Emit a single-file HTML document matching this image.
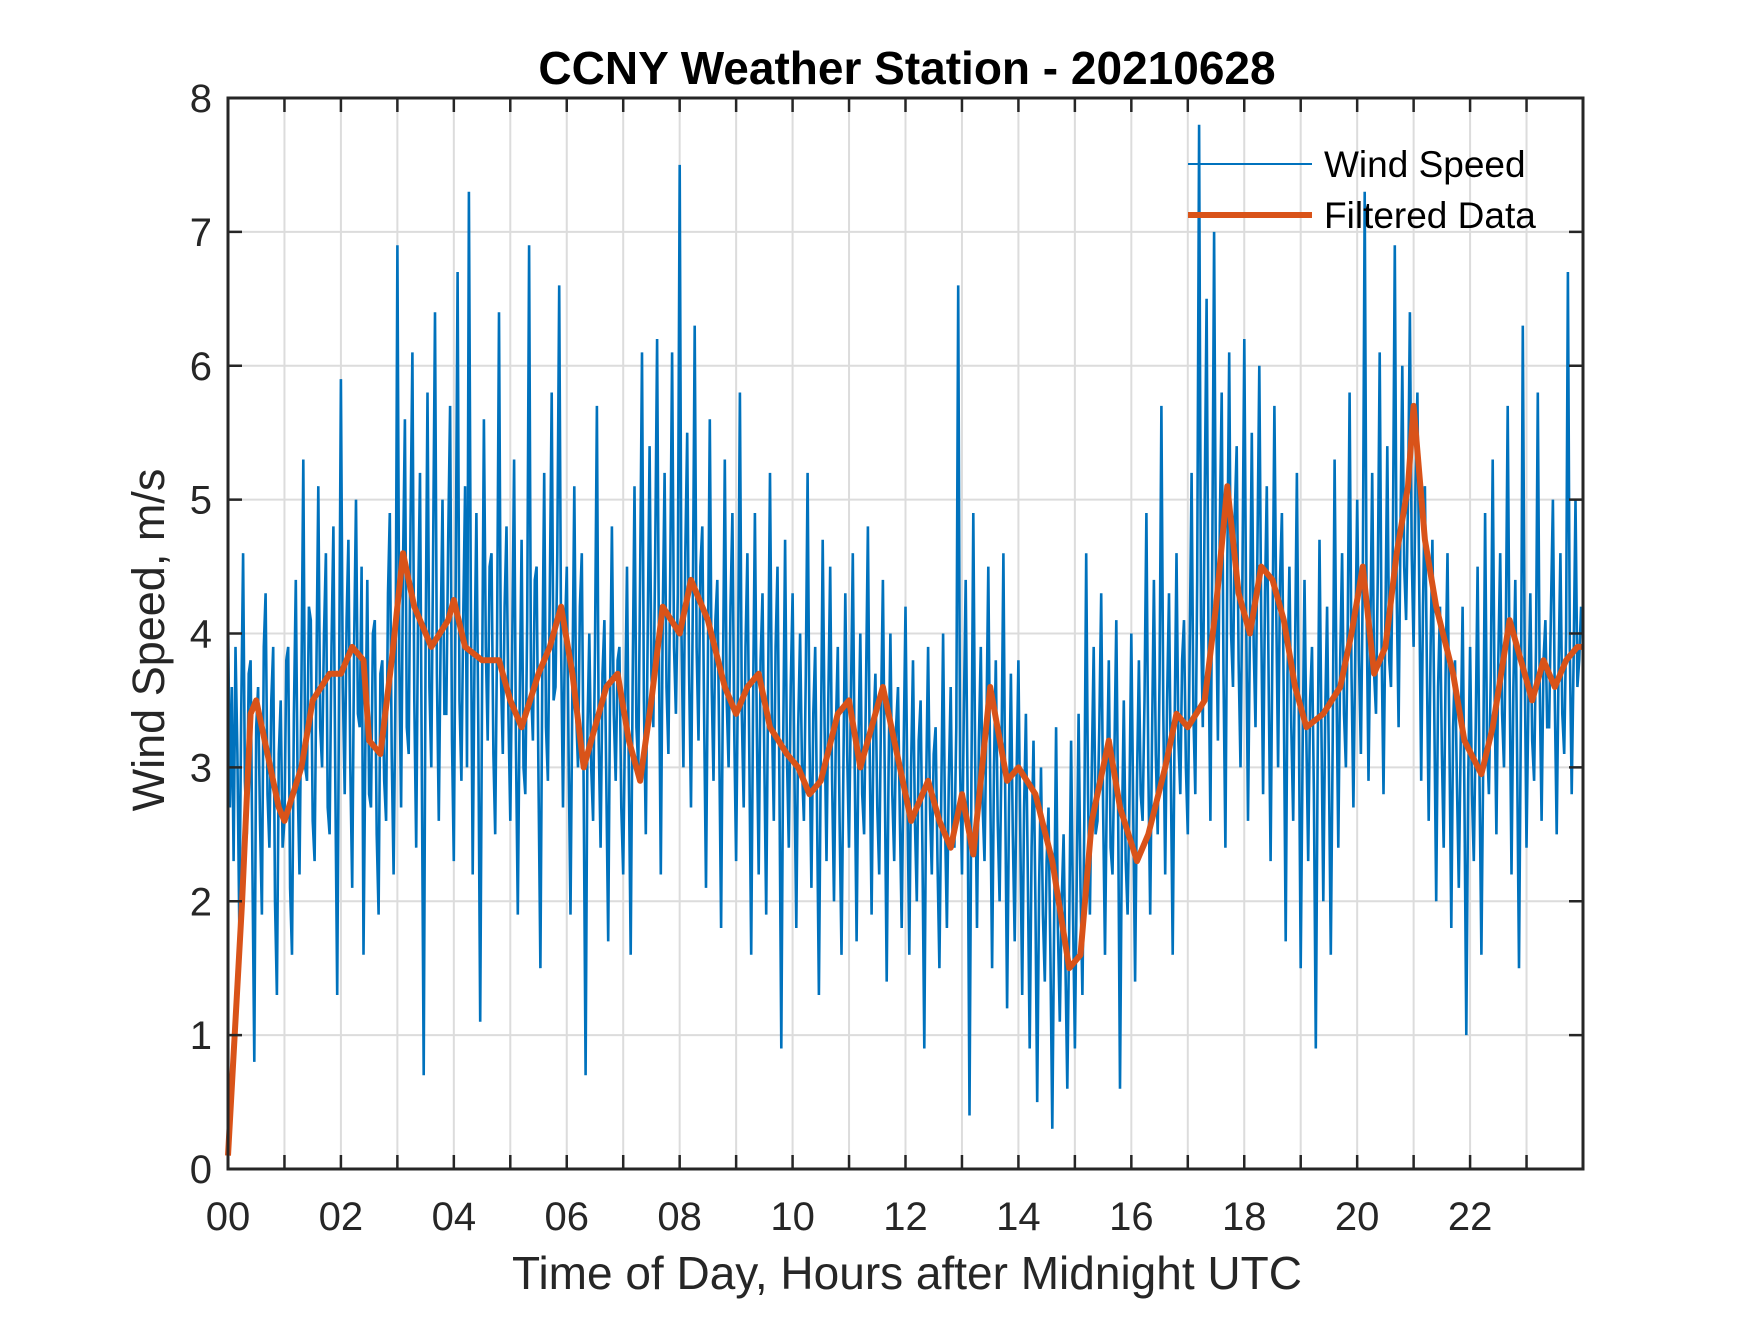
<!DOCTYPE html>
<html><head><meta charset="utf-8"><style>
body{margin:0;background:#fff;}
svg text{font-family:"Liberation Sans",Arial,sans-serif;fill:#262626;}
</style></head><body>
<svg id="chart" width="1750" height="1313" viewBox="0 0 1750 1313" xmlns="http://www.w3.org/2000/svg">
<rect x="0" y="0" width="1750" height="1313" fill="#fff"/>
<g id="grid"></g>
<g id="series"></g>
<g id="axes"></g>
<text x="907" y="84" font-size="46" font-weight="bold" text-anchor="middle" style="fill:#000">CCNY Weather Station - 20210628</text>
<text x="907" y="1289" font-size="46" text-anchor="middle">Time of Day, Hours after Midnight UTC</text>
<text transform="translate(164,640) rotate(-90)" font-size="45" text-anchor="middle">Wind Speed, m/s</text>
<g>
<line x1="1188" y1="164" x2="1312" y2="164" stroke="#0072BD" stroke-width="2"/>
<text x="1324" y="177" font-size="37" style="fill:#000">Wind Speed</text>
<line x1="1188" y1="215" x2="1312" y2="215" stroke="#D95319" stroke-width="6"/>
<text x="1324" y="228" font-size="37" style="fill:#000">Filtered Data</text>
</g>
</svg>
<script>
const xTickLabels=["00","02","04","06","08","10","12","14","16","18","20","22"];
const yTickLabels=["0","1","2","3","4","5","6","7","8"];
const filtT=[0,0.25,0.4,0.5,0.7,0.9,1.0,1.3,1.5,1.8,2.0,2.2,2.4,2.5,2.7,2.9,3.1,3.3,3.6,3.9,4.0,4.2,4.5,4.8,5.0,5.2,5.5,5.7,5.9,6.1,6.3,6.5,6.7,6.9,7.1,7.3,7.5,7.7,8.0,8.2,8.5,8.8,9.0,9.2,9.4,9.6,9.9,10.1,10.3,10.5,10.8,11.0,11.2,11.4,11.6,11.9,12.1,12.4,12.6,12.8,13.0,13.2,13.5,13.8,14.0,14.3,14.6,14.9,15.1,15.3,15.6,15.8,16.1,16.3,16.6,16.8,17.0,17.3,17.5,17.7,17.9,18.1,18.3,18.5,18.7,18.9,19.1,19.4,19.7,19.9,20.1,20.3,20.5,20.7,20.9,21.0,21.2,21.4,21.7,21.9,22.2,22.4,22.7,22.9,23.1,23.3,23.5,23.7,23.9,24.0];
const filtV=[0.1,2.0,3.4,3.5,3.1,2.7,2.6,3.0,3.5,3.7,3.7,3.9,3.8,3.2,3.1,3.8,4.6,4.2,3.9,4.1,4.25,3.9,3.8,3.8,3.5,3.3,3.7,3.9,4.2,3.7,3.0,3.3,3.6,3.7,3.2,2.9,3.5,4.2,4.0,4.4,4.1,3.6,3.4,3.6,3.7,3.3,3.1,3.0,2.8,2.9,3.4,3.5,3.0,3.3,3.6,3.0,2.6,2.9,2.6,2.4,2.8,2.35,3.6,2.9,3.0,2.8,2.3,1.5,1.6,2.6,3.2,2.7,2.3,2.5,3.0,3.4,3.3,3.5,4.2,5.1,4.3,4.0,4.5,4.4,4.1,3.6,3.3,3.4,3.6,4.0,4.5,3.7,3.9,4.6,5.1,5.7,4.7,4.2,3.7,3.2,2.95,3.3,4.1,3.8,3.5,3.8,3.6,3.8,3.9,3.9];
const windV=[
4.2,2.7,3.6,2.3,3.9,3.1,1.8,3.4,4.6,2.9,2.5,3.7,3.8,2.2,0.8,3.3,3.6,2.6,1.9,3.9,4.3,2.8,2.4,3.5,3.9,2.0,1.3,3.1,3.5,2.4,
2.6,3.8,3.9,2.1,1.6,3.4,4.4,2.9,2.2,3.6,5.3,3.0,2.9,4.2,4.1,2.6,2.3,3.8,5.1,3.3,3.0,4.0,4.6,2.7,2.5,3.9,4.8,2.9,1.3,3.5,
5.9,3.6,2.8,4.1,4.7,3.0,2.1,3.9,5.0,3.4,3.3,4.5,1.6,3.2,4.4,2.8,2.7,4.0,4.1,2.5,1.9,3.7,3.8,2.9,2.6,4.3,4.9,3.1,2.2,3.6,
6.9,3.8,2.7,4.5,5.6,3.3,3.1,4.8,6.1,3.5,2.4,4.2,5.2,3.0,0.7,3.9,5.8,3.6,3.0,4.6,6.4,3.7,2.6,4.0,5.0,3.4,3.4,4.7,5.7,3.2,
2.3,4.4,6.7,3.5,2.9,4.1,5.1,3.0,7.3,4.3,2.2,3.8,4.9,3.3,1.1,3.6,5.6,3.9,3.2,4.5,4.6,3.1,2.5,4.0,6.4,3.7,3.1,4.2,4.8,3.4,
2.6,3.9,5.3,3.2,1.9,3.5,4.7,3.0,2.8,4.1,6.9,3.6,3.2,4.4,4.5,2.9,1.5,3.7,5.2,3.3,2.9,4.3,5.8,3.5,3.6,4.6,6.6,3.9,2.7,4.0,
4.5,3.1,1.9,3.6,5.1,3.4,3.0,4.2,4.6,2.8,0.7,3.3,4.0,3.0,2.6,3.9,5.7,3.2,2.4,3.7,4.1,2.9,1.7,3.5,4.8,3.4,2.9,3.8,3.9,2.7,
2.2,3.4,4.5,2.9,1.6,3.6,5.1,3.3,3.0,4.4,6.1,3.5,2.5,4.0,5.4,3.7,3.3,4.6,6.2,3.8,2.2,4.1,5.2,3.6,3.1,4.5,6.1,3.9,3.4,4.3,
7.5,4.0,3.0,4.6,5.5,3.7,2.7,4.2,6.3,3.9,3.2,4.5,4.8,3.4,2.1,3.8,5.6,3.6,2.9,4.1,4.4,3.2,1.8,3.7,5.3,3.5,3.0,4.2,4.9,3.3,
2.3,3.7,5.8,3.4,2.7,3.9,4.6,3.1,1.6,3.5,4.9,3.3,2.2,3.8,4.3,3.0,1.9,3.6,5.2,3.4,2.6,3.9,4.5,2.9,0.9,3.2,4.7,3.1,2.4,3.6,
4.3,2.9,1.8,3.3,4.0,3.0,2.6,3.7,5.2,3.2,2.1,3.4,3.9,2.7,1.3,3.1,4.7,3.3,2.3,3.5,4.5,2.9,2.0,3.3,3.9,2.6,1.6,3.0,4.3,3.1,
2.4,3.5,4.6,3.0,1.7,3.2,4.0,2.8,2.5,3.6,4.8,3.1,1.9,3.3,3.7,2.7,2.2,3.4,4.4,2.9,1.4,3.0,4.0,2.8,2.3,3.3,3.6,2.6,1.8,3.1,
4.2,2.8,1.6,3.0,3.8,2.6,2.0,3.2,3.5,2.4,0.9,2.9,3.9,2.7,2.2,3.1,3.3,2.3,1.5,2.8,4.0,2.6,1.8,2.9,3.6,2.5,2.4,3.3,6.6,3.0,
2.2,3.4,4.4,2.8,0.4,2.9,4.9,3.1,1.8,3.2,3.9,2.7,2.3,3.3,4.5,2.9,1.5,3.0,3.8,2.6,2.0,3.1,4.6,2.8,1.2,2.7,3.7,2.5,1.7,2.9,
3.8,2.5,1.3,2.7,3.4,2.2,0.9,2.4,3.2,2.0,0.5,2.1,3.0,1.9,1.4,2.3,2.7,1.6,0.3,1.9,3.3,1.8,1.1,2.0,2.5,1.5,0.6,1.8,3.2,1.9,
0.9,2.2,3.4,2.1,1.3,2.6,4.6,2.8,1.9,3.0,3.9,2.5,2.6,3.3,4.3,2.7,1.6,2.9,3.8,2.4,2.2,3.1,4.1,2.6,0.6,2.5,3.5,2.3,1.9,2.8,
4.0,2.7,1.4,2.9,3.8,2.8,2.6,3.5,4.9,3.0,1.9,3.2,4.4,3.1,2.5,3.7,5.7,3.4,2.2,3.5,4.3,2.9,1.6,3.3,4.6,3.2,2.8,3.8,4.1,3.0,
2.5,3.9,5.2,3.4,2.8,4.4,7.8,4.1,3.3,5.0,6.5,3.9,2.6,4.6,7.0,4.3,3.2,4.8,5.8,3.7,2.4,4.5,6.1,4.0,3.6,4.9,5.4,3.8,3.0,4.4,
6.2,4.2,2.6,4.0,5.5,3.9,3.3,4.6,6.0,4.1,2.8,4.3,5.1,3.6,2.3,4.0,5.7,4.2,3.0,4.4,4.9,3.5,1.7,3.7,4.5,3.3,2.6,3.9,5.2,3.4,
1.5,3.1,4.4,3.2,2.3,3.5,3.9,2.8,0.9,3.0,4.7,3.3,2.0,3.4,4.2,3.0,1.6,3.2,5.3,3.6,2.4,3.8,4.6,3.4,3.0,4.1,5.8,3.7,2.7,3.9,
5.0,3.8,3.1,4.4,7.3,4.2,2.9,4.0,5.2,3.7,3.4,4.5,6.1,3.9,2.8,4.1,5.4,3.8,3.6,4.7,6.9,4.3,3.3,4.8,6.0,4.5,4.1,5.0,6.4,4.6,
3.9,5.1,5.8,4.3,2.9,4.2,5.1,3.8,2.6,3.9,4.7,3.4,2.0,3.6,4.2,3.1,2.4,3.7,4.6,3.2,1.8,3.3,3.8,2.9,2.1,3.2,4.2,2.8,1.0,2.9,
3.9,2.8,2.3,3.3,4.5,2.9,1.6,3.1,4.9,3.2,2.8,3.7,5.3,3.6,2.5,3.8,4.6,3.4,3.0,4.0,5.7,3.7,2.2,3.6,4.4,3.1,1.5,3.4,6.3,3.8,
2.4,3.5,4.3,3.2,2.9,3.9,5.8,3.6,2.6,3.8,4.1,3.3,3.3,4.2,5.0,3.5,2.5,3.7,4.6,3.4,3.1,4.0,6.7,3.9,2.8,3.8,5.0,3.6,3.8,4.2];
const L=228,R=1583,T=98,B=1169,XMAX=24,YMAX=8;
const xs=h=>L+(R-L)*h/XMAX, ys=v=>B-(B-T)*v/YMAX;
const NS="http://www.w3.org/2000/svg";
function mk(tag,attrs,parent){const e=document.createElementNS(NS,tag);for(const k in attrs)e.setAttribute(k,attrs[k]);parent.appendChild(e);return e;}
const grid=document.getElementById('grid'),axes=document.getElementById('axes'),series=document.getElementById('series');
for(let h=1;h<XMAX;h++){const g=mk('line',{x1:xs(h),x2:xs(h),y1:T,y2:B,stroke:'#dcdcdc','stroke-width':2},grid);

}
for(let v=1;v<YMAX;v++){const g=mk('line',{x1:L,x2:R,y1:ys(v),y2:ys(v),stroke:'#dcdcdc','stroke-width':2},grid);

}
const wp=windV.map((v,i)=>xs(i*XMAX/windV.length).toFixed(1)+','+ys(v).toFixed(1)).join(' ');
const wl=mk('polyline',{points:wp,fill:'none',stroke:'#0072BD','stroke-width':2.6,'stroke-linejoin':'miter'},series);


const fp=filtT.map((t,i)=>xs(t).toFixed(1)+','+ys(filtV[i]).toFixed(1)).join(' ');
const fl=mk('polyline',{points:fp,fill:'none',stroke:'#D95319','stroke-width':6,'stroke-linejoin':'round'},series);


for(let h=1;h<XMAX;h++){
const t1=mk('line',{x1:xs(h),x2:xs(h),y1:B,y2:B-14,stroke:'#262626','stroke-width':2.5},axes);


const t2=mk('line',{x1:xs(h),x2:xs(h),y1:T,y2:T+14,stroke:'#262626','stroke-width':2.5},axes);

}
for(let v=1;v<YMAX;v++){
const t1=mk('line',{x1:L,x2:L+14,y1:ys(v),y2:ys(v),stroke:'#262626','stroke-width':2.5},axes);


const t2=mk('line',{x1:R,x2:R-14,y1:ys(v),y2:ys(v),stroke:'#262626','stroke-width':2.5},axes);

}
const box=mk('rect',{x:L,y:T,width:R-L,height:B-T,fill:'none',stroke:'#262626','stroke-width':3},axes);


xTickLabels.forEach((s,i)=>{const t=mk('text',{x:xs(i*2),y:1230,'font-size':40,'text-anchor':'middle'},axes);t.textContent=s;

});
yTickLabels.forEach((s,i)=>{const t=mk('text',{x:L-16,y:ys(i)+14,'font-size':40,'text-anchor':'end'},axes);t.textContent=s;

});
</script>
</body></html>
